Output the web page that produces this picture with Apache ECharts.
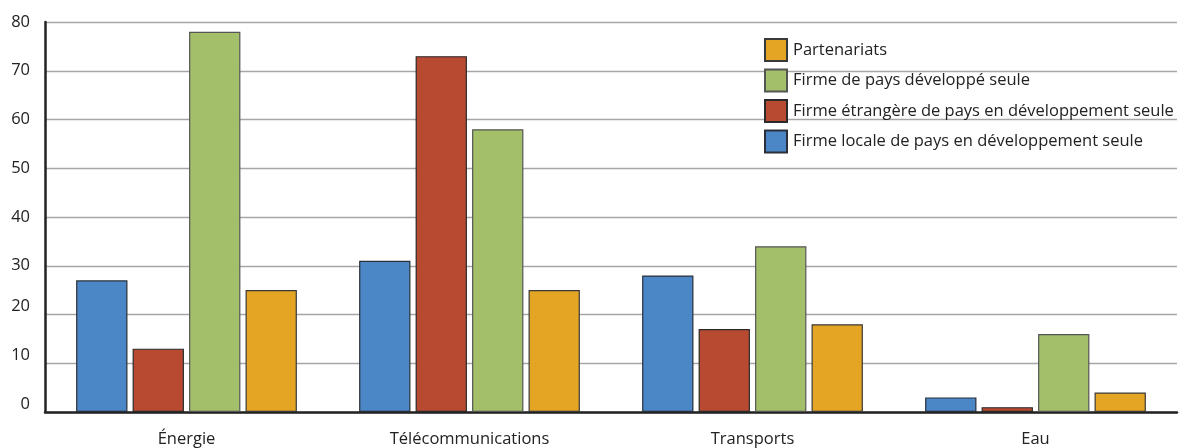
<!DOCTYPE html>
<html>
<head>
<meta charset="utf-8">
<script src="https://cdn.jsdelivr.net/npm/echarts@6/dist/echarts.min.js"></script>
<style>
  html, body { margin: 0; padding: 0; background: #fff; }
  #chart { width: 1179px; height: 448px; }
</style>
</head>
<body>
<div id="chart"></div>
<script>
// Secteurs (catégories de l'axe horizontal)
const categories = ['Énergie', 'Télécommunications', 'Transports', 'Eau'];

// Nombre de projets par type d'investisseur
const firmeLocale = [27, 31, 28, 3];
const firmeEtrangere = [13, 73, 17, 1];
const firmeDeveloppe = [78, 58, 34, 16];
const partenariats = [25, 25, 18, 4];

const seriesNames = [
  'Firme locale de pays en développement seule',
  'Firme étrangère de pays en développement seule',
  'Firme de pays développé seule',
  'Partenariats'
];
const seriesValues = [firmeLocale, firmeEtrangere, firmeDeveloppe, partenariats];
const seriesColors = ['#4b86c6', '#b94a32', '#a3bf6a', '#e4a424'];
const seriesBorders = ['#2a2f38', '#2a2a2a', '#555555', '#3a3a3a'];

const font = '"Open Sans", "Noto Sans", sans-serif';

const chart = echarts.init(document.getElementById('chart'), null, { renderer: 'canvas' });

chart.setOption({
  animation: false,
  textStyle: { fontFamily: font },
  grid: { left: 45, right: 2, top: 22, bottom: 29, containLabel: false },
  legend: {
    orient: 'vertical',
    left: 759,
    top: 33,
    itemWidth: 22,
    itemHeight: 22,
    itemGap: 6.5,
    icon: 'rect',
    data: seriesNames.slice().reverse(),
    textStyle: { fontFamily: font, fontSize: 16.5, color: '#222', padding: [0, 0, 0, 1] }
  },
  xAxis: {
    type: 'category',
    data: categories,
    axisLine: { show: true, lineStyle: { color: '#222', width: 2.5 } },
    axisTick: { show: false },
    axisLabel: { fontFamily: font, fontSize: 16.5, color: '#222', margin: 19 }
  },
  yAxis: {
    type: 'value',
    min: 0,
    max: 80,
    interval: 10,
    axisLine: { show: true, lineStyle: { color: '#222', width: 2.5 } },
    axisTick: { show: false },
    axisLabel: {
      fontFamily: font,
      fontSize: 16.5,
      color: '#222',
      margin: 15,
      // the lowest tick labels sit slightly above their grid lines
      formatter: (v) => (v <= 20 ? '{lo|' + v + '}' : '{hi|' + v + '}'),
      rich: {
        hi: { fontFamily: font, fontSize: 16.5, color: '#222' },
        lo: { fontFamily: font, fontSize: 16.5, color: '#222', padding: [0, 0, 16, 0] }
      }
    },
    splitLine: { show: true, lineStyle: { color: '#a6a6a6', width: 1.3 } }
  },
  series: seriesNames.map((name, i) => ({
    name: name,
    type: 'bar',
    data: seriesValues[i],
    barGap: '10%',
    barCategoryGap: '22%',
    itemStyle: { color: seriesColors[i], borderColor: seriesBorders[i], borderWidth: 1.2 }
  }))
});
</script>
</body>
</html>
